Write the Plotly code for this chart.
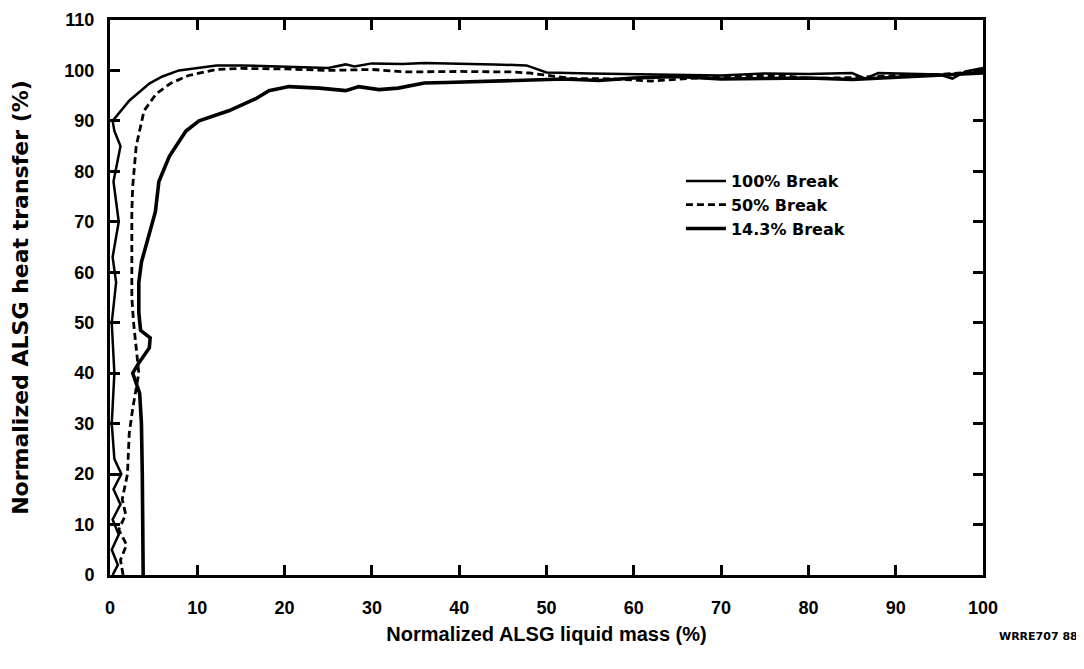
import plotly.graph_objects as go

# ---- data ----
x_100 = [0.3, 0.9, 0.2, 1.0, 0.3, 1.2, 0.4, 1.3, 0.5, 0.2, 0.5, 0.2, 0.7, 0.3, 1.0, 0.4, 1.2, 0.5, 0.3,
         0.8, 2.2, 4.5, 6.0, 7.9, 10.0, 12.2, 15.0, 20.0, 25.0, 27.0, 28.0, 30.0, 33.5, 36.0, 40.0, 44.0,
         47.7, 50.0, 55.0, 60.0, 65.0, 70.0, 75.0, 80.0, 85.0, 86.5, 88.0, 90.0, 95.0, 96.5, 98.0, 100.0]
y_100 = [0.0, 2.0, 5.0, 8.0, 11.0, 14.0, 17.0, 20.0, 23.0, 30.0, 40.0, 50.0, 58.0, 63.0, 70.0, 78.0, 85.0, 88.0, 90.0,
         91.0, 94.0, 97.4, 98.8, 100.0, 100.5, 101.0, 101.0, 100.7, 100.5, 101.2, 100.8, 101.4, 101.3, 101.5, 101.4, 101.2,
         101.0, 99.6, 99.4, 99.3, 99.2, 99.0, 99.4, 99.3, 99.5, 98.4, 99.5, 99.4, 99.2, 98.4, 99.8, 100.5]

x_50 = [1.5, 1.2, 1.9, 1.0, 1.8, 1.4, 2.0, 2.2, 2.6, 3.0, 3.3, 3.0, 2.7, 2.5, 2.5, 2.5, 2.5, 2.6, 3.0, 3.9,
        5.3, 7.0, 9.0, 12.2, 15.0, 20.0, 25.0, 30.0, 34.0, 40.0, 46.0, 48.0, 51.0, 53.0, 55.0, 58.0, 62.0,
        66.0, 70.0, 73.0, 77.0, 80.0, 85.0, 90.0, 95.0, 100.0]
y_50 = [0.0, 3.0, 6.0, 9.0, 12.0, 15.0, 20.0, 28.0, 33.0, 37.0, 40.0, 45.0, 50.0, 55.0, 62.0, 68.0, 72.0, 77.0, 85.0, 92.0,
        95.4, 97.5, 99.0, 100.2, 100.4, 100.3, 100.0, 100.2, 99.7, 99.8, 99.7, 99.5, 98.8, 98.4, 98.4, 98.3, 97.9,
        98.4, 98.7, 99.0, 99.0, 98.4, 98.6, 99.0, 99.2, 99.8]

x_14 = [3.8, 3.8, 3.7, 3.6, 3.4, 3.0, 2.6, 3.3, 4.5, 4.6, 3.5, 3.3, 3.3, 3.6, 4.5, 5.2, 5.6, 6.8, 8.7, 10.2,
        13.6, 16.7, 18.2, 20.5, 24.0, 27.0, 28.5, 30.8, 33.0, 36.0, 38.5, 42.0, 47.0, 52.0, 56.0, 60.0,
        65.0, 70.0, 75.0, 80.0, 85.0, 90.0, 95.0, 100.0]
y_14 = [0.0, 10.0, 20.0, 30.0, 36.0, 38.0, 40.0, 42.0, 45.0, 47.0, 48.5, 52.0, 58.0, 62.0, 67.7, 72.0, 78.0, 83.0, 88.0, 90.0,
        92.0, 94.4, 96.0, 96.8, 96.5, 96.0, 96.8, 96.2, 96.5, 97.5, 97.6, 97.8, 98.0, 98.3, 98.0, 98.5,
        98.8, 98.3, 98.4, 98.5, 98.2, 98.6, 99.0, 99.5]

x_ticks = [0, 10, 20, 30, 40, 50, 60, 70, 80, 90, 100]
y_ticks = [0, 10, 20, 30, 40, 50, 60, 70, 80, 90, 100, 110]

names = ["100% Break", "50% Break", "14.3% Break"]

FONT = "Liberation Sans"
WIDE = "DejaVu Sans"

fig = go.Figure()
fig.add_trace(go.Scatter(x=x_100, y=y_100, mode="lines", name=names[0],
                         line=dict(color="black", width=2.5)))
fig.add_trace(go.Scatter(x=x_50, y=y_50, mode="lines", name=names[1],
                         line=dict(color="black", width=2.8, dash="7px,4px")))
fig.add_trace(go.Scatter(x=x_14, y=y_14, mode="lines", name=names[2],
                         line=dict(color="black", width=3.6)))

axis_common = dict(showline=True, linecolor="black", linewidth=3, mirror="ticks",
                   ticks="inside", ticklen=10, tickwidth=2.5, tickcolor="black",
                   showgrid=False, zeroline=False, automargin=False,
                   tickfont=dict(family=FONT, size=18, color="black", weight="bold"))

fig.update_xaxes(range=[0, 100], tickvals=x_ticks, ticktext=[str(v) for v in x_ticks],
                 title=dict(text="Normalized ALSG liquid mass (%)",
                            font=dict(family=FONT, size=20, color="black", weight="bold"),
                            standoff=11),
                 ticklabelstandoff=14, **axis_common)
fig.update_yaxes(range=[0, 110], tickvals=y_ticks, ticktext=[str(v) for v in y_ticks],
                 title=dict(text="Normalized ALSG heat transfer (%)",
                            font=dict(family=WIDE, size=22, color="black", weight="bold"),
                            standoff=32),
                 ticklabelstandoff=9, **axis_common)

fig.update_layout(
    width=1084, height=669,
    margin=dict(l=102, r=109, t=12, b=102),
    plot_bgcolor="white", paper_bgcolor="white",
    font=dict(family=FONT, color="black"),
    legend=dict(x=0.654, y=0.7405, xanchor="left", yanchor="top",
                bgcolor="rgba(0,0,0,0)", borderwidth=0,
                font=dict(family=WIDE, size=16, color="black", weight="bold"),
                tracegroupgap=0, itemwidth=40),
    annotations=[dict(text="WRRE707 88", x=1.111, y=-0.126, xref="paper", yref="paper",
                      xanchor="right", showarrow=False,
                      font=dict(family=WIDE, size=11, color="black", weight="bold"))],
)

fig.write_html("out.html")
